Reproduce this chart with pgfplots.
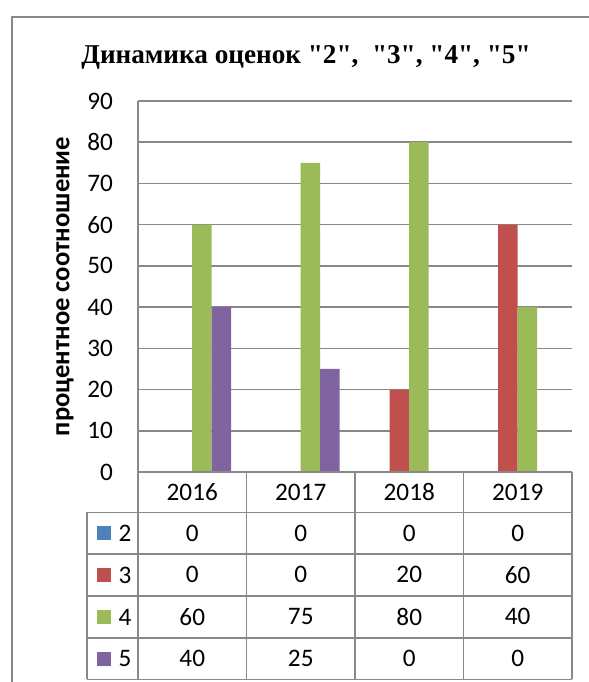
\documentclass[border=0pt]{standalone}
\usepackage{fontspec}
\usepackage{pgfplots}
\usepackage{pgfplotstable}
\pgfplotsset{compat=1.18}
\newfontfamily\calibri{Carlito}
\newfontfamily\timesf{Liberation Serif}
\definecolor{sblue}{HTML}{4F81BD}
\definecolor{sred}{HTML}{C0504D}
\definecolor{sgreen}{HTML}{9BBB59}
\definecolor{spurple}{HTML}{8064A2}
\definecolor{gridgray}{HTML}{888888}

\pgfplotstableread{
x y
0 0
1 0
2 0
3 0
}\seriesTwo
\pgfplotstableread{
x y
0 0
1 0
2 20
3 60
}\seriesThree
\pgfplotstableread{
x y
0 60
1 75
2 80
3 40
}\seriesFour
\pgfplotstableread{
x y
0 40
1 25
2 0
3 0
}\seriesFive

\newcommand{\tabfont}{\calibri\fontsize{12.6}{14}\selectfont}

\begin{document}
\begin{tikzpicture}
\useasboundingbox (0,0) rectangle (294.5pt,341pt);
\draw[gridgray, line width=0.7pt] (6pt,-5pt) -- (6pt,332.5pt) -- (300pt,332.5pt);
\node[font=\timesf\bfseries\fontsize{13.6}{16}\selectfont] at (153pt,312.5pt) {Динамика оценок "2",\ \ "3", "4", "5"};

\begin{axis}[
  at={(69pt,105pt)}, anchor=south west,
  scale only axis, width=217pt, height=185.5pt,
  xmin=-0.5, xmax=3.5, ymin=0, ymax=90,
  ytick={0,10,...,90},
  xtick={0,1,2,3}, xticklabels={2016,2017,2018,2019},
  xticklabel style={anchor=center, yshift=-10.1pt},
  major tick length=0pt,
  ymajorgrids, grid style={gridgray, line width=0.75pt},
  axis line style={draw=none},
  clip=false,
  ticklabel style={font=\tabfont},
  /pgf/number format/assume math mode=true,
  yticklabel style={xshift=-9pt},
  ylabel={процентное соотношение},
  every axis y label/.style={at={(axis description cs:-0.1682,0.5)}, rotate=90, anchor=center, font=\calibri\bfseries\fontsize{13.3}{16}\selectfont},
  every node near coord/.style={anchor=center, font=\tabfont},
]
\addplot[ybar, bar width=9.75pt, bar shift=-14.625pt, fill=sblue, draw=none] table[x=x,y=y]{\seriesTwo};
\addplot[ybar, bar width=9.75pt, bar shift=-4.875pt, fill=sred, draw=none] table[x=x,y=y]{\seriesThree};
\addplot[ybar, bar width=9.75pt, bar shift=4.875pt, fill=sgreen, draw=none] table[x=x,y=y]{\seriesFour};
\addplot[ybar, bar width=9.75pt, bar shift=14.625pt, fill=spurple, draw=none] table[x=x,y=y]{\seriesFive};

\addplot[only marks, mark=none, nodes near coords, point meta=explicit symbolic] table[x=x, y expr=-14.8, meta=y]{\seriesTwo};
\addplot[only marks, mark=none, nodes near coords, point meta=explicit symbolic] table[x=x, y expr=-24.9, meta=y]{\seriesThree};
\addplot[only marks, mark=none, nodes near coords, point meta=explicit symbolic] table[x=x, y expr=-35.1, meta=y]{\seriesFour};
\addplot[only marks, mark=none, nodes near coords, point meta=explicit symbolic] table[x=x, y expr=-45.2, meta=y]{\seriesFive};
\end{axis}

% table grid
\begin{scope}[gridgray, line width=0.75pt]
\draw (69pt,290.5pt) -- (69pt,1.25pt);
\draw (69pt,105pt) -- (286pt,105pt);
\foreach \yy in {84.75,64,43,22,1.25} \draw (43.5pt,\yy pt) -- (286pt,\yy pt);
\draw (43.5pt,84.75pt) -- (43.5pt,1.25pt);
\foreach \xx in {123.25,177.5,231.75,286} \draw (\xx pt,105pt) -- (\xx pt,1.25pt);
\end{scope}
% legend keys
\fill[sblue] (48.5pt,70.9pt) rectangle ++(7pt,7pt);
\fill[sred] (48.5pt,50pt) rectangle ++(7pt,7pt);
\fill[sgreen] (48.5pt,29pt) rectangle ++(7pt,7pt);
\fill[spurple] (48.5pt,8.1pt) rectangle ++(7pt,7pt);
\node[font=\tabfont] at (62.5pt,74.4pt) {2};
\node[font=\tabfont] at (62.5pt,53.5pt) {3};
\node[font=\tabfont] at (62.5pt,32.5pt) {4};
\node[font=\tabfont] at (62.5pt,11.6pt) {5};
\end{tikzpicture}
\end{document}
